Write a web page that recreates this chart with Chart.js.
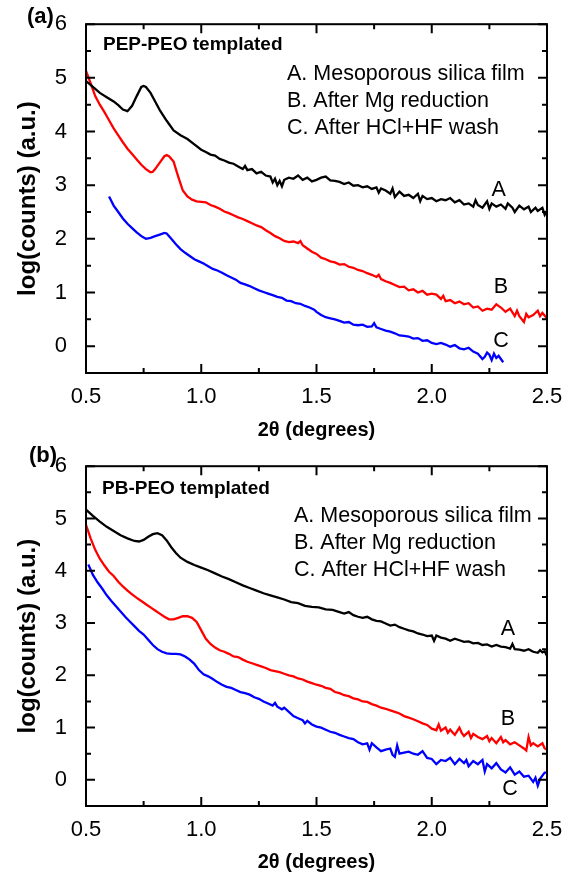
<!DOCTYPE html>
<html>
<head>
<meta charset="utf-8">
<script src="https://cdn.jsdelivr.net/npm/chart.js@4.4.0/dist/chart.umd.min.js"></script>
<style>
  body { margin: 0; background: #fff; }
  canvas { display: block; }
</style>
</head>
<body>
<canvas id="chartA" width="570" height="442"></canvas>
<canvas id="chartB" width="570" height="432"></canvas>
<script>
const xTicks = [0.5, 1.0, 1.5, 2.0, 2.5];
const yTicks = [0, 1, 2, 3, 4, 5, 6];
const seriesNames = ["A. Mesoporous silica film", "B. After Mg reduction", "C. After HCl+HF wash"];
const curveLetters = ["A", "B", "C"];
const colors = ["#000000", "#ff0000", "#0000ff"];

// (a) PEP-PEO templated, pairs of [2theta, log(counts)]
const pepA = [[0.50,4.94],[0.53,4.83],[0.56,4.72],[0.59,4.64],[0.62,4.56],[0.64,4.49],[0.66,4.41],[0.68,4.38],[0.70,4.48],[0.72,4.66],[0.74,4.83],[0.75,4.85],[0.76,4.83],[0.78,4.72],[0.80,4.56],[0.82,4.40],[0.85,4.20],[0.88,4.02],[0.91,3.93],[0.94,3.86],[0.97,3.76],[1.00,3.66],[1.02,3.62],[1.04,3.57],[1.06,3.55],[1.08,3.49],[1.10,3.46],[1.12,3.42],[1.14,3.40],[1.16,3.35],[1.18,3.30],[1.19,3.36],[1.20,3.28],[1.22,3.30],[1.24,3.22],[1.26,3.25],[1.28,3.18],[1.30,3.16],[1.31,3.05],[1.32,3.12],[1.33,3.00],[1.34,3.08],[1.35,2.98],[1.36,3.10],[1.38,3.14],[1.40,3.12],[1.42,3.18],[1.44,3.10],[1.46,3.14],[1.48,3.07],[1.50,3.10],[1.52,3.14],[1.54,3.16],[1.56,3.09],[1.58,3.08],[1.60,3.06],[1.62,3.02],[1.64,3.05],[1.66,2.99],[1.68,3.00],[1.70,2.96],[1.72,2.98],[1.74,2.93],[1.76,2.96],[1.77,2.86],[1.78,2.94],[1.80,2.90],[1.82,2.84],[1.83,2.94],[1.84,2.78],[1.86,2.88],[1.88,2.80],[1.90,2.82],[1.92,2.76],[1.94,2.84],[1.95,2.70],[1.96,2.80],[1.98,2.74],[2.00,2.76],[2.02,2.70],[2.04,2.74],[2.06,2.72],[2.08,2.76],[2.10,2.68],[2.12,2.72],[2.14,2.64],[2.16,2.66],[2.18,2.60],[2.19,2.72],[2.20,2.63],[2.22,2.58],[2.24,2.70],[2.25,2.56],[2.26,2.66],[2.28,2.60],[2.30,2.64],[2.32,2.56],[2.33,2.66],[2.35,2.58],[2.36,2.50],[2.38,2.62],[2.40,2.55],[2.42,2.60],[2.43,2.50],[2.45,2.58],[2.46,2.52],[2.48,2.58],[2.49,2.45],[2.50,2.52]];
const pepB = [[0.50,5.13],[0.52,4.90],[0.54,4.66],[0.56,4.50],[0.58,4.36],[0.60,4.21],[0.62,4.06],[0.64,3.93],[0.66,3.80],[0.68,3.68],[0.70,3.58],[0.72,3.48],[0.74,3.38],[0.76,3.30],[0.78,3.24],[0.79,3.25],[0.80,3.30],[0.82,3.42],[0.84,3.54],[0.85,3.56],[0.86,3.54],[0.88,3.44],[0.90,3.16],[0.92,2.90],[0.94,2.79],[0.96,2.73],[0.98,2.70],[1.00,2.69],[1.02,2.68],[1.04,2.63],[1.06,2.60],[1.08,2.56],[1.10,2.51],[1.12,2.48],[1.14,2.44],[1.16,2.40],[1.18,2.37],[1.20,2.33],[1.22,2.29],[1.24,2.25],[1.26,2.22],[1.28,2.16],[1.30,2.11],[1.32,2.05],[1.34,2.01],[1.36,1.96],[1.38,1.94],[1.40,1.95],[1.42,1.92],[1.43,1.96],[1.44,1.88],[1.46,1.82],[1.48,1.76],[1.50,1.72],[1.52,1.65],[1.54,1.62],[1.56,1.58],[1.58,1.56],[1.60,1.52],[1.62,1.53],[1.64,1.48],[1.66,1.46],[1.68,1.42],[1.70,1.40],[1.72,1.36],[1.74,1.33],[1.76,1.29],[1.77,1.33],[1.78,1.25],[1.80,1.21],[1.82,1.18],[1.84,1.14],[1.86,1.10],[1.88,1.11],[1.90,1.04],[1.92,1.06],[1.94,1.00],[1.96,1.03],[1.98,0.96],[2.00,0.98],[2.02,0.96],[2.04,0.88],[2.05,0.94],[2.06,0.84],[2.08,0.86],[2.10,0.80],[2.12,0.83],[2.14,0.78],[2.16,0.80],[2.18,0.72],[2.20,0.74],[2.22,0.66],[2.24,0.70],[2.26,0.68],[2.28,0.78],[2.30,0.72],[2.32,0.64],[2.34,0.70],[2.36,0.56],[2.37,0.66],[2.38,0.56],[2.40,0.45],[2.41,0.60],[2.42,0.54],[2.44,0.58],[2.46,0.66],[2.47,0.56],[2.48,0.62],[2.50,0.52]];
const pepC = [[0.60,2.79],[0.62,2.62],[0.64,2.50],[0.66,2.38],[0.68,2.28],[0.70,2.20],[0.72,2.12],[0.74,2.05],[0.76,2.00],[0.78,2.02],[0.80,2.05],[0.82,2.08],[0.84,2.11],[0.85,2.10],[0.87,2.00],[0.89,1.90],[0.91,1.81],[0.93,1.74],[0.95,1.68],[0.97,1.62],[0.99,1.58],[1.01,1.54],[1.03,1.49],[1.05,1.44],[1.07,1.41],[1.09,1.37],[1.11,1.32],[1.13,1.28],[1.15,1.24],[1.17,1.18],[1.19,1.15],[1.21,1.12],[1.23,1.08],[1.25,1.04],[1.27,1.01],[1.29,0.98],[1.31,0.95],[1.33,0.92],[1.35,0.90],[1.37,0.85],[1.39,0.84],[1.41,0.80],[1.43,0.79],[1.45,0.75],[1.47,0.72],[1.49,0.68],[1.50,0.64],[1.52,0.58],[1.54,0.54],[1.56,0.52],[1.58,0.50],[1.60,0.47],[1.62,0.44],[1.64,0.45],[1.66,0.40],[1.68,0.39],[1.70,0.40],[1.72,0.36],[1.74,0.37],[1.75,0.43],[1.76,0.35],[1.78,0.32],[1.80,0.29],[1.82,0.27],[1.84,0.24],[1.86,0.20],[1.88,0.19],[1.90,0.18],[1.92,0.14],[1.94,0.15],[1.96,0.10],[1.98,0.11],[2.00,0.06],[2.02,0.04],[2.04,0.06],[2.06,0.03],[2.08,-0.01],[2.10,0.02],[2.12,-0.04],[2.14,-0.06],[2.16,-0.03],[2.18,-0.10],[2.20,-0.14],[2.22,-0.24],[2.23,-0.20],[2.24,-0.12],[2.25,-0.16],[2.26,-0.26],[2.27,-0.14],[2.28,-0.22],[2.29,-0.18],[2.31,-0.30]];

// (b) PB-PEO templated
const pbA = [[0.50,5.17],[0.53,5.05],[0.56,4.94],[0.59,4.84],[0.62,4.76],[0.65,4.68],[0.68,4.62],[0.71,4.57],[0.73,4.56],[0.75,4.59],[0.77,4.65],[0.79,4.70],[0.81,4.72],[0.83,4.68],[0.85,4.58],[0.87,4.45],[0.89,4.34],[0.91,4.25],[0.94,4.17],[0.97,4.11],[1.00,4.06],[1.03,4.01],[1.06,3.95],[1.09,3.89],[1.12,3.84],[1.15,3.78],[1.18,3.72],[1.21,3.67],[1.24,3.62],[1.27,3.57],[1.30,3.53],[1.33,3.49],[1.36,3.45],[1.39,3.40],[1.42,3.38],[1.45,3.33],[1.48,3.31],[1.51,3.30],[1.54,3.26],[1.57,3.25],[1.60,3.21],[1.62,3.18],[1.64,3.21],[1.66,3.15],[1.68,3.12],[1.70,3.10],[1.72,3.12],[1.74,3.07],[1.76,3.04],[1.78,3.03],[1.80,2.99],[1.82,2.95],[1.84,2.97],[1.86,2.92],[1.88,2.89],[1.90,2.86],[1.92,2.84],[1.94,2.80],[1.96,2.78],[1.98,2.75],[2.00,2.76],[2.01,2.66],[2.02,2.76],[2.04,2.72],[2.06,2.70],[2.08,2.66],[2.10,2.70],[2.12,2.67],[2.14,2.64],[2.16,2.65],[2.18,2.61],[2.20,2.62],[2.22,2.58],[2.24,2.59],[2.26,2.55],[2.28,2.58],[2.30,2.55],[2.32,2.54],[2.34,2.51],[2.35,2.60],[2.36,2.50],[2.38,2.49],[2.40,2.47],[2.42,2.50],[2.44,2.45],[2.46,2.43],[2.47,2.48],[2.48,2.44],[2.49,2.46],[2.50,2.37]];
const pbB = [[0.50,4.88],[0.52,4.62],[0.54,4.40],[0.56,4.23],[0.58,4.10],[0.60,3.98],[0.62,3.90],[0.64,3.79],[0.66,3.70],[0.68,3.62],[0.70,3.55],[0.72,3.48],[0.74,3.42],[0.76,3.36],[0.78,3.30],[0.80,3.24],[0.82,3.18],[0.84,3.12],[0.86,3.07],[0.88,3.07],[0.90,3.10],[0.92,3.13],[0.94,3.13],[0.96,3.10],[0.98,3.02],[1.00,2.86],[1.02,2.70],[1.04,2.60],[1.06,2.53],[1.08,2.48],[1.10,2.45],[1.12,2.41],[1.14,2.36],[1.16,2.35],[1.18,2.30],[1.20,2.26],[1.22,2.23],[1.24,2.20],[1.26,2.17],[1.28,2.14],[1.30,2.10],[1.32,2.08],[1.34,2.06],[1.36,2.03],[1.38,2.00],[1.40,1.98],[1.42,1.94],[1.44,1.92],[1.46,1.88],[1.48,1.85],[1.50,1.82],[1.52,1.80],[1.54,1.76],[1.56,1.74],[1.58,1.68],[1.60,1.66],[1.62,1.62],[1.64,1.60],[1.66,1.56],[1.68,1.54],[1.70,1.50],[1.72,1.49],[1.74,1.45],[1.76,1.42],[1.78,1.38],[1.80,1.36],[1.82,1.33],[1.84,1.30],[1.86,1.27],[1.88,1.22],[1.90,1.19],[1.92,1.16],[1.94,1.12],[1.96,1.08],[1.98,1.05],[2.00,0.98],[2.02,0.95],[2.03,1.06],[2.04,0.94],[2.06,1.00],[2.07,0.90],[2.08,0.96],[2.10,0.86],[2.12,1.00],[2.13,0.90],[2.14,0.84],[2.16,0.92],[2.17,0.80],[2.18,0.88],[2.20,0.82],[2.22,0.78],[2.24,0.84],[2.25,0.74],[2.26,0.80],[2.28,0.70],[2.30,0.82],[2.31,0.72],[2.32,0.76],[2.34,0.68],[2.36,0.72],[2.38,0.66],[2.40,0.60],[2.41,0.56],[2.42,0.82],[2.43,0.66],[2.44,0.70],[2.46,0.64],[2.48,0.70],[2.49,0.60],[2.50,0.58]];
const pbC = [[0.51,4.12],[0.53,3.92],[0.55,3.78],[0.57,3.66],[0.59,3.53],[0.61,3.42],[0.63,3.32],[0.65,3.22],[0.67,3.12],[0.69,3.03],[0.71,2.94],[0.73,2.85],[0.75,2.78],[0.77,2.68],[0.79,2.58],[0.81,2.50],[0.83,2.45],[0.85,2.42],[0.87,2.41],[0.89,2.41],[0.91,2.40],[0.93,2.36],[0.95,2.30],[0.97,2.22],[0.99,2.10],[1.01,2.02],[1.03,1.98],[1.05,1.93],[1.07,1.87],[1.09,1.82],[1.11,1.78],[1.13,1.76],[1.15,1.72],[1.17,1.68],[1.19,1.66],[1.21,1.63],[1.23,1.58],[1.25,1.55],[1.27,1.50],[1.29,1.46],[1.31,1.42],[1.32,1.47],[1.33,1.40],[1.35,1.35],[1.36,1.38],[1.38,1.30],[1.40,1.22],[1.42,1.18],[1.44,1.14],[1.45,1.08],[1.46,1.13],[1.48,1.06],[1.50,1.02],[1.52,1.00],[1.54,0.96],[1.56,0.92],[1.58,0.90],[1.60,0.86],[1.62,0.83],[1.64,0.80],[1.66,0.78],[1.68,0.72],[1.70,0.68],[1.72,0.70],[1.73,0.58],[1.74,0.70],[1.76,0.62],[1.78,0.55],[1.80,0.58],[1.82,0.60],[1.83,0.48],[1.84,0.44],[1.85,0.66],[1.86,0.50],[1.88,0.52],[1.90,0.54],[1.92,0.50],[1.94,0.48],[1.96,0.55],[1.98,0.42],[2.00,0.40],[2.02,0.30],[2.04,0.38],[2.06,0.36],[2.08,0.42],[2.10,0.30],[2.12,0.40],[2.14,0.32],[2.15,0.38],[2.16,0.26],[2.18,0.36],[2.20,0.30],[2.22,0.38],[2.23,0.16],[2.24,0.30],[2.26,0.22],[2.28,0.32],[2.30,0.20],[2.32,0.14],[2.34,0.24],[2.36,0.10],[2.38,0.16],[2.40,0.06],[2.42,0.08],[2.44,-0.04],[2.45,0.04],[2.46,-0.11],[2.47,0.02],[2.48,0.08],[2.49,0.14],[2.50,0.14]];

// where the A/B/C letters sit, in data units
const pepLetterPos = [[2.29, 2.90], [2.30, 1.10], [2.30, 0.09]];
const pbLetterPos = [[2.33, 2.89], [2.33, 1.16], [2.34, -0.17]];

const FONT = '"Liberation Sans", Arial, sans-serif';

// box frame, inward ticks and the text inside the plot
const framePlugin = {
  id: "frame",
  afterDraw(chart, args, opts) {
    const ctx = chart.ctx;
    const { left, right, top, bottom } = chart.chartArea;
    const xs = chart.scales.x;
    const ys = chart.scales.y;
    ctx.save();
    ctx.strokeStyle = "#000";
    ctx.lineWidth = 2;
    ctx.strokeRect(left, top, right - left, bottom - top);

    ctx.beginPath();
    xTicks.forEach((v, i) => {
      const px = xs.getPixelForValue(v);
      ctx.moveTo(px, bottom); ctx.lineTo(px, bottom - 9);
      ctx.moveTo(px, top); ctx.lineTo(px, top + 9);
      if (i < xTicks.length - 1) {
        const mx = xs.getPixelForValue((v + xTicks[i + 1]) / 2);
        ctx.moveTo(mx, bottom); ctx.lineTo(mx, bottom - 5);
        ctx.moveTo(mx, top); ctx.lineTo(mx, top + 5);
      }
    });
    yTicks.forEach((v, i) => {
      const py = ys.getPixelForValue(v);
      ctx.moveTo(left, py); ctx.lineTo(left + 9, py);
      ctx.moveTo(right, py); ctx.lineTo(right - 9, py);
      if (i < yTicks.length - 1) {
        const my = ys.getPixelForValue(v + 0.5);
        ctx.moveTo(left, my); ctx.lineTo(left + 5, my);
        ctx.moveTo(right, my); ctx.lineTo(right - 5, my);
      }
    });
    ctx.stroke();

    ctx.fillStyle = "#000";
    ctx.textBaseline = "middle";
    ctx.textAlign = "left";
    ctx.font = "bold 22px " + FONT;
    ctx.fillText(opts.panel, opts.panelX, opts.panelY);
    ctx.font = "bold 19px " + FONT;
    ctx.fillText(opts.title, opts.titleX, top + opts.titleDy);
    ctx.font = "21.5px " + FONT;
    seriesNames.forEach((s, i) => ctx.fillText(s, opts.legendX, top + 50 + i * 27));
    ctx.textAlign = "center";
    opts.letters.forEach((p, i) => {
      ctx.fillText(curveLetters[i], xs.getPixelForValue(p[0]), ys.getPixelForValue(p[1]));
    });
    ctx.restore();
  }
};

function makeChart(id, series, frameOpts, padTop, xAxisHeight) {
  return new Chart(document.getElementById(id), {
    type: "line",
    data: {
      datasets: series.map((s, i) => ({
        label: curveLetters[i],
        data: s.map(p => ({ x: p[0], y: p[1] })),
        borderColor: colors[i],
        borderWidth: 2.3,
        pointRadius: 0,
        tension: 0,
        fill: false
      }))
    },
    options: {
      responsive: false,
      animation: false,
      layout: { padding: { top: padTop, right: 23, left: 0, bottom: 0 } },
      plugins: {
        legend: { display: false },
        tooltip: { enabled: false },
        frame: frameOpts
      },
      scales: {
        x: {
          type: "linear",
          min: 0.5,
          max: 2.5,
          afterBuildTicks: s => { s.ticks = xTicks.map(v => ({ value: v })); },
          afterFit: s => { s.height = xAxisHeight; },
          grid: { display: false },
          border: { display: false },
          ticks: {
            padding: 3,
            color: "#000",
            maxRotation: 0,
            font: { family: FONT, size: 22 },
            callback: v => v.toFixed(1)
          },
          title: {
            display: true,
            text: "2θ (degrees)",
            color: "#000",
            font: { family: FONT, size: 20, weight: "bold" },
            padding: 0
          }
        },
        y: {
          type: "linear",
          min: -0.5,
          max: 6,
          afterBuildTicks: s => { s.ticks = yTicks.map(v => ({ value: v })); },
          afterFit: s => { s.width = 86; },
          grid: { display: false },
          border: { display: false },
          ticks: {
            padding: 11,
            color: "#000",
            font: { family: FONT, size: 22 },
            callback: v => String(v)
          },
          title: {
            display: true,
            text: "log(counts) (a.u.)",
            color: "#000",
            font: { family: FONT, size: 24, weight: "bold" },
            padding: { top: 14, bottom: 0 }
          }
        }
      }
    },
    plugins: [framePlugin]
  });
}

makeChart("chartA", [pepA, pepB, pepC], {
  panel: "(a)", panelX: 27, panelY: 17,
  title: "PEP-PEO templated", titleX: 103, titleDy: 21,
  legendX: 287, letters: pepLetterPos
}, 23, 69);

makeChart("chartB", [pbA, pbB, pbC], {
  panel: "(b)", panelX: 29, panelY: 14,
  title: "PB-PEO templated", titleX: 102, titleDy: 23,
  legendX: 294, letters: pbLetterPos
}, 14, 68);
</script>
</body>
</html>
